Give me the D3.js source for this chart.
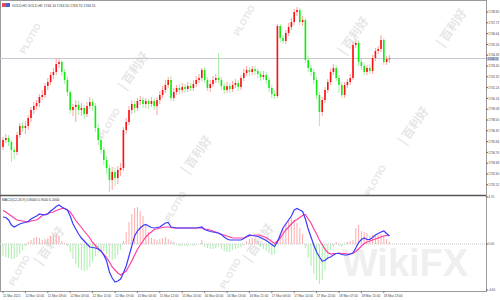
<!DOCTYPE html>
<html>
<head>
<meta charset="utf-8">
<script src="https://cdn.jsdelivr.net/npm/d3@7"></script>
<style>
  body { margin: 0; background: #fff; }
  svg { display: block; font-family: "Liberation Sans", Arial, sans-serif; }
</style>
</head>
<body>
<div id="chart"></div>
<script>
// GOLD H1 candles (open of each bar = close of the previous bar)
var firstOpen = 1735.30;
var closes = [1736.00,1736.20,1735.80,1735.00,1734.80,1736.50,1737.40,1737.20,1737.40,1738.20,
  1739.00,1739.40,1739.70,1740.30,1740.50,1741.40,1741.80,1742.50,1742.80,1743.60,
  1743.80,1742.80,1742.00,1740.80,1739.00,1739.30,1739.50,1739.00,1739.20,1738.60,
  1739.40,1739.80,1739.40,1737.20,1736.00,1735.00,1734.00,1733.20,1732.00,1732.80,
  1732.20,1733.00,1733.20,1737.00,1737.80,1739.00,1739.60,1739.20,1739.90,1740.00,
  1739.60,1739.90,1739.60,1739.90,1739.40,1740.00,1740.50,1741.00,1741.50,1742.00,
  1740.20,1740.80,1741.20,1741.00,1741.30,1741.10,1741.40,1741.20,1741.60,1742.00,
  1742.20,1743.00,1742.00,1741.20,1741.60,1742.00,1742.20,1742.00,1741.40,1741.00,
  1741.40,1741.10,1741.50,1741.70,1741.30,1742.20,1742.70,1743.00,1742.80,1743.10,
  1742.90,1742.60,1742.30,1742.50,1742.00,1741.20,1740.60,1740.40,1747.40,1746.20,
  1745.90,1746.70,1747.30,1747.80,1748.80,1749.00,1747.80,1748.00,1744.00,1743.20,
  1742.80,1742.00,1740.50,1738.80,1740.00,1741.00,1741.80,1742.80,1743.20,1742.20,
  1741.50,1740.50,1741.50,1741.80,1742.20,1745.50,1745.70,1743.80,1743.40,1742.80,
  1743.20,1742.90,1744.20,1744.90,1745.10,1746.00,1743.80,1744.10,1744.15];
var highs = [1736.30,1736.60,1736.50,1736.00,1735.30,1736.80,1737.70,1737.80,1737.90,1738.50,
  1739.30,1739.80,1740.00,1740.60,1741.00,1741.70,1742.20,1742.80,1743.20,1744.20,
  1744.20,1744.00,1743.10,1742.30,1741.00,1739.60,1740.00,1739.90,1739.70,1739.50,
  1739.80,1740.30,1740.10,1739.70,1737.60,1736.40,1735.30,1734.40,1733.50,1733.30,
  1733.20,1733.40,1733.70,1737.30,1738.20,1739.40,1740.00,1739.90,1740.20,1740.40,
  1740.30,1740.20,1740.10,1740.30,1740.20,1740.30,1740.90,1741.40,1742.00,1742.30,
  1742.40,1741.20,1741.50,1741.60,1741.70,1741.60,1741.80,1741.70,1742.00,1742.40,
  1742.60,1743.20,1743.30,1742.30,1742.00,1742.40,1742.60,1744.70,1742.30,1741.70,
  1741.80,1741.70,1741.90,1742.10,1742.00,1742.50,1743.10,1743.40,1743.30,1743.40,
  1743.40,1743.20,1742.90,1742.90,1742.80,1742.30,1741.50,1741.00,1747.60,1747.60,
  1746.50,1747.00,1747.70,1748.20,1749.10,1749.30,1749.20,1748.40,1748.20,1744.40,
  1743.50,1743.10,1742.30,1740.80,1740.30,1741.30,1742.10,1743.10,1743.60,1743.50,
  1742.50,1741.80,1741.80,1742.10,1742.60,1745.80,1746.10,1746.00,1744.10,1743.70,
  1743.50,1743.50,1744.50,1745.20,1745.40,1746.50,1746.20,1744.40,1744.50];
var lows = [1735.00,1735.70,1735.40,1733.80,1734.10,1734.50,1736.20,1736.80,1736.60,1737.00,
  1737.80,1738.60,1739.00,1739.30,1740.00,1740.20,1741.00,1741.50,1742.10,1742.50,
  1743.20,1742.40,1741.60,1740.40,1738.60,1738.40,1737.80,1738.50,1738.40,1738.10,
  1738.30,1739.10,1738.90,1736.80,1735.50,1734.60,1733.50,1732.60,1730.80,1731.00,
  1731.40,1731.60,1732.40,1732.90,1736.60,1737.50,1738.60,1738.70,1738.90,1739.50,
  1739.20,1739.20,1739.10,1739.30,1739.00,1738.50,1739.60,1740.20,1740.70,1741.20,
  1739.90,1739.90,1740.50,1740.60,1740.70,1740.70,1740.80,1740.90,1740.90,1741.30,
  1741.70,1741.90,1741.70,1740.90,1740.80,1741.30,1741.70,1741.70,1741.00,1740.60,
  1740.70,1740.70,1740.80,1741.20,1740.90,1741.00,1741.90,1742.40,1742.40,1742.50,
  1742.50,1742.20,1741.90,1742.00,1741.60,1740.80,1740.20,1740.10,1740.20,1745.80,
  1745.60,1745.60,1746.40,1747.00,1747.50,1748.40,1747.50,1747.40,1743.70,1742.80,
  1742.40,1741.60,1740.10,1737.40,1738.40,1739.70,1740.70,1741.50,1742.50,1741.90,
  1740.70,1740.20,1740.20,1741.20,1741.50,1742.00,1745.20,1743.40,1743.00,1742.50,
  1742.50,1742.60,1742.60,1743.90,1744.60,1744.80,1743.50,1743.50,1743.70];

// MACD(12,26,9) sub-window
var macdLine = [2.70,2.65,2.40,1.90,1.70,1.85,2.00,2.10,2.15,2.25,
  2.50,2.65,2.80,3.00,2.95,2.90,3.00,3.30,3.50,3.75,
  3.90,3.70,3.55,3.40,2.80,2.00,1.50,1.00,0.60,0.30,
  0.00,-0.30,-0.35,-0.40,-0.50,-0.70,-1.10,-1.70,-2.80,-3.40,
  -3.80,-3.70,-3.50,-2.90,-2.20,-1.20,-0.20,0.80,1.30,1.60,
  1.85,1.95,1.80,1.65,1.60,1.65,1.70,1.90,2.10,2.15,
  1.70,1.65,1.60,1.60,1.60,1.60,1.60,1.60,1.60,1.60,
  1.65,1.70,1.45,1.35,1.25,1.20,1.15,1.10,0.95,0.70,
  0.50,0.40,0.40,0.40,0.40,0.40,0.55,0.75,0.90,0.85,
  0.80,0.75,0.65,0.50,0.35,0.15,-0.05,-0.25,0.20,0.90,
  1.60,2.00,2.40,2.80,3.40,3.55,3.40,3.25,2.50,1.50,
  0.70,-0.10,-0.80,-1.30,-1.70,-1.65,-1.40,-1.30,-1.10,-0.95,
  -0.95,-1.05,-1.10,-1.10,-1.00,-0.90,-0.40,0.15,0.45,0.60,
  0.45,0.45,0.65,0.90,1.05,1.20,1.30,1.05,0.80];
var signalLine = [3.35,3.20,3.00,2.80,2.60,2.40,2.35,2.30,2.25,2.20,
  2.30,2.35,2.40,2.60,2.85,2.95,3.05,3.15,3.20,3.35,
  3.45,3.55,3.55,3.40,3.20,2.80,2.35,2.00,1.65,1.30,
  0.95,0.60,0.15,-0.15,-0.45,-0.70,-1.05,-1.35,-1.80,-2.30,
  -2.60,-2.90,-3.10,-2.90,-2.70,-2.20,-1.70,-1.10,-0.55,-0.10,
  0.30,0.70,1.00,1.20,1.45,1.50,1.60,1.65,1.70,1.70,
  1.65,1.60,1.60,1.60,1.60,1.60,1.60,1.60,1.60,1.60,
  1.60,1.60,1.50,1.45,1.40,1.30,1.20,1.05,0.95,0.90,
  0.80,0.70,0.60,0.60,0.60,0.60,0.60,0.70,0.80,0.85,
  0.90,0.90,0.85,0.75,0.65,0.45,0.25,0.05,0.30,0.60,
  1.00,1.40,1.70,2.00,2.30,2.45,2.65,2.85,2.95,2.50,
  2.10,1.50,1.00,0.40,-0.05,-0.55,-0.85,-1.00,-0.95,-0.95,
  -0.90,-0.95,-0.95,-1.00,-1.00,-0.90,-0.75,-0.50,-0.20,0.05,
  0.20,0.30,0.40,0.50,0.60,0.70,0.80,0.85,0.90];
var histogram = [-1.2,-1.3,-1.4,-1.5,-1.5,-1.3,-1.0,-0.6,-0.2,0.2,
  0.4,0.6,0.7,0.6,0.4,0.5,0.6,0.8,0.9,1.0,
  0.7,0.3,0.1,-0.2,-0.8,-1.5,-2.0,-2.4,-2.6,-2.7,
  -2.6,-2.3,-1.8,-1.2,-0.8,-0.6,-0.7,-1.0,-1.4,-1.6,
  -1.5,-1.1,-0.6,0.3,1.2,2.2,3.0,3.6,3.7,3.3,
  2.8,2.0,1.2,0.6,0.5,0.4,0.5,0.6,0.7,0.5,
  0.3,0.2,-0.1,-0.2,-0.2,-0.2,-0.2,-0.1,-0.2,-0.1,
  0.0,0.4,-0.3,-0.4,-0.5,-0.5,-0.4,-0.3,-0.5,-0.7,
  -0.8,-0.8,-0.6,-0.5,-0.4,-0.3,-0.1,0.3,0.5,0.6,
  0.5,0.3,-0.3,-0.5,-0.7,-0.9,-1.1,-1.0,0.4,1.0,
  1.5,2.0,2.4,2.6,2.4,2.1,1.6,1.0,-0.4,-1.4,
  -2.2,-3.0,-3.6,-4.0,-3.6,-2.6,-1.4,-0.6,-0.3,0.2,
  -0.2,-0.3,-0.1,0.2,0.3,0.4,1.6,1.9,1.3,1.2,
  1.1,0.8,0.9,0.8,0.9,1.0,0.9,0.5,0.2];

// axis labels
var priceTicks = [1748.80,1747.72,1746.64,1745.56,1744.48,1743.40,1742.32,1741.24,1740.16,
  1739.08,1738.00,1736.92,1735.84,1734.76,1733.68,1732.60,1731.52];
var bidPrice = 1744.15;
var macdTicks = [4.70, 0.00, -4.60];
var timeLabels = ["11 Mar 2021","11 Mar 10:00","11 Mar 18:00","12 Mar 03:00","12 Mar 11:00",
  "12 Mar 19:00","15 Mar 04:00","15 Mar 12:00","15 Mar 20:00","16 Mar 05:00","16 Mar 13:00",
  "16 Mar 21:00","17 Mar 06:00","17 Mar 14:00","17 Mar 22:00","18 Mar 07:00","18 Mar 15:00",
  "18 Mar 23:00"];
var labelEvery = 8;
var titleText = "GOLD,H1  GOLD,H1  1744.10 1744.50 1743.70 1744.15";
var macdText = "MACD(12,26,9) 0.8000 0.9000 0.2000";

var w = 500, h = 300;
var axisX = 486;      // right price axis
var mainBottom = 195; // separator between price and MACD windows
var subTop = 197, subBottom = 291;

var n = closes.length;
var bars = closes.map(function (c, i) {
  return { i: i, open: i === 0 ? firstOpen : closes[i - 1], close: c, high: highs[i], low: lows[i] };
});

var x = d3.scaleLinear().domain([0, n - 1]).range([3, 3 + 2.8 * (n - 1)]);
var y = d3.scaleLinear().domain([1750, 1730.5]).range([0, mainBottom]);
var ym = d3.scaleLinear().domain([4.7, -4.6]).range([subTop, 290]);

var svg = d3.select("#chart").append("svg").attr("width", w).attr("height", h);

// faint watermarks
var wm = svg.append("g").attr("fill", "#e6e6e6").attr("font-weight", "bold");
[[33, 40, "PLOTIO"], [247, 22, "PLOTIO"], [112, 125, "PLOTIO"], [378, 182, "PLOTIO"],
 [178, 208, "PLOTIO"], [233, 275, "PLOTIO"], [22, 272, "PLOTIO"]].forEach(function (d) {
  wm.append("text").attr("transform", "translate(" + d[0] + "," + d[1] + ") rotate(-60)")
    .attr("text-anchor", "middle").attr("font-size", 9).text(d[2]);
});
[[137, 73], [357, 38], [200, 157], [417, 128], [53, 248], [262, 245], [455, 30]].forEach(function (d) {
  wm.append("text").attr("transform", "translate(" + d[0] + "," + d[1] + ") rotate(-55)")
    .attr("text-anchor", "middle").attr("font-size", 12).attr("font-family", "Noto Sans CJK SC")
    .text("| 百利好");
});
wm.append("text").attr("x", 405).attr("y", 276).attr("text-anchor", "middle")
  .attr("font-size", 38).attr("fill", "#efefef").text("WikiFX");

// frame
svg.append("rect").attr("x", 0.5).attr("y", 0.5).attr("width", axisX).attr("height", subBottom)
  .attr("fill", "none").attr("stroke", "#9a9a9a").attr("stroke-width", 1);
svg.append("line").attr("x1", 0).attr("x2", axisX).attr("y1", mainBottom + 0.5).attr("y2", mainBottom + 0.5)
  .attr("stroke", "#555").attr("stroke-width", 1.6);

// bid line
svg.append("line").attr("x1", 0).attr("x2", axisX).attr("y1", y(bidPrice)).attr("y2", y(bidPrice))
  .attr("stroke", "#c4c8d0").attr("stroke-width", 1);

// candles
var cg = svg.append("g");
cg.selectAll("line.wick").data(bars).enter().append("line")
  .attr("x1", d => x(d.i)).attr("x2", d => x(d.i))
  .attr("y1", d => y(d.high)).attr("y2", d => y(d.low))
  .attr("stroke", d => d.close >= d.open ? "#ffa0a0" : "#a4eea4").attr("stroke-width", 1);
cg.selectAll("rect.body").data(bars).enter().append("rect")
  .attr("x", d => x(d.i) - 0.8).attr("width", 1.6)
  .attr("y", d => y(Math.max(d.open, d.close)))
  .attr("height", d => Math.max(0.8, Math.abs(y(d.open) - y(d.close))))
  .attr("fill", d => d.close >= d.open ? "#ff1010" : "#10ee10");

// MACD histogram
svg.append("line").attr("x1", 0).attr("x2", axisX).attr("y1", ym(0)).attr("y2", ym(0))
  .attr("stroke", "#c8c8c8").attr("stroke-dasharray", "1,1");
svg.append("g").selectAll("rect").data(histogram).enter().append("rect")
  .attr("x", (d, i) => x(i) - 0.5).attr("width", 1)
  .attr("y", d => ym(Math.max(0, d)))
  .attr("height", d => Math.abs(ym(d) - ym(0)))
  .attr("fill", d => d >= 0 ? "#ffaaaa" : "#aaeeaa");

var line = d3.line().x((d, i) => x(i)).y(d => ym(d));
svg.append("path").datum(signalLine).attr("d", line).attr("fill", "none")
  .attr("stroke", "#ff3fa0").attr("stroke-width", 1.2);
svg.append("path").datum(macdLine).attr("d", line).attr("fill", "none")
  .attr("stroke", "#3a3aff").attr("stroke-width", 1.2);

// right price axis
var ax = svg.append("g").attr("font-size", 3).attr("fill", "#444");
ax.selectAll("line.pt").data(priceTicks).enter().append("line")
  .attr("x1", axisX).attr("x2", axisX + 2).attr("y1", d => y(d)).attr("y2", d => y(d)).attr("stroke", "#666");
ax.selectAll("text.pt").data(priceTicks).enter().append("text")
  .attr("x", axisX + 2.3).attr("y", d => y(d) + 1.1).text(d => d.toFixed(2));
ax.append("rect").attr("x", axisX + 1).attr("y", y(bidPrice) - 1.4).attr("width", 11.5).attr("height", 3.6)
  .attr("fill", "#b8c4d8");
ax.append("text").attr("x", axisX + 1.8).attr("y", y(bidPrice) + 1.3).text(bidPrice.toFixed(2));
ax.selectAll("text.mt").data(macdTicks).enter().append("text")
  .attr("x", axisX + 2.3).attr("y", d => ym(d) + 1.1).text(d => d.toFixed(2));
ax.selectAll("line.mt").data(macdTicks).enter().append("line")
  .attr("x1", axisX).attr("x2", axisX + 2).attr("y1", d => ym(d)).attr("y2", d => ym(d)).attr("stroke", "#666");

// time axis
var tg = svg.append("g").attr("font-size", 3.2).attr("fill", "#444");
timeLabels.forEach(function (t, k) {
  var px = x(k * labelEvery);
  tg.append("line").attr("x1", px).attr("x2", px).attr("y1", subBottom).attr("y2", subBottom + 2).attr("stroke", "#777");
  tg.append("text").attr("x", px).attr("y", 296.5).text(t);
});

// window titles
svg.append("rect").attr("x", 2).attr("y", 3).attr("width", 4).attr("height", 4).attr("fill", "#e05050");
svg.append("rect").attr("x", 6).attr("y", 3).attr("width", 4).attr("height", 4).attr("fill", "#5060d0");
svg.append("text").attr("x", 12).attr("y", 6.5).attr("font-size", 3.4).attr("fill", "#333").text(titleText);
svg.append("text").attr("x", 2).attr("y", 200.5).attr("font-size", 3.4).attr("fill", "#333").text(macdText);
</script>
</body>
</html>
